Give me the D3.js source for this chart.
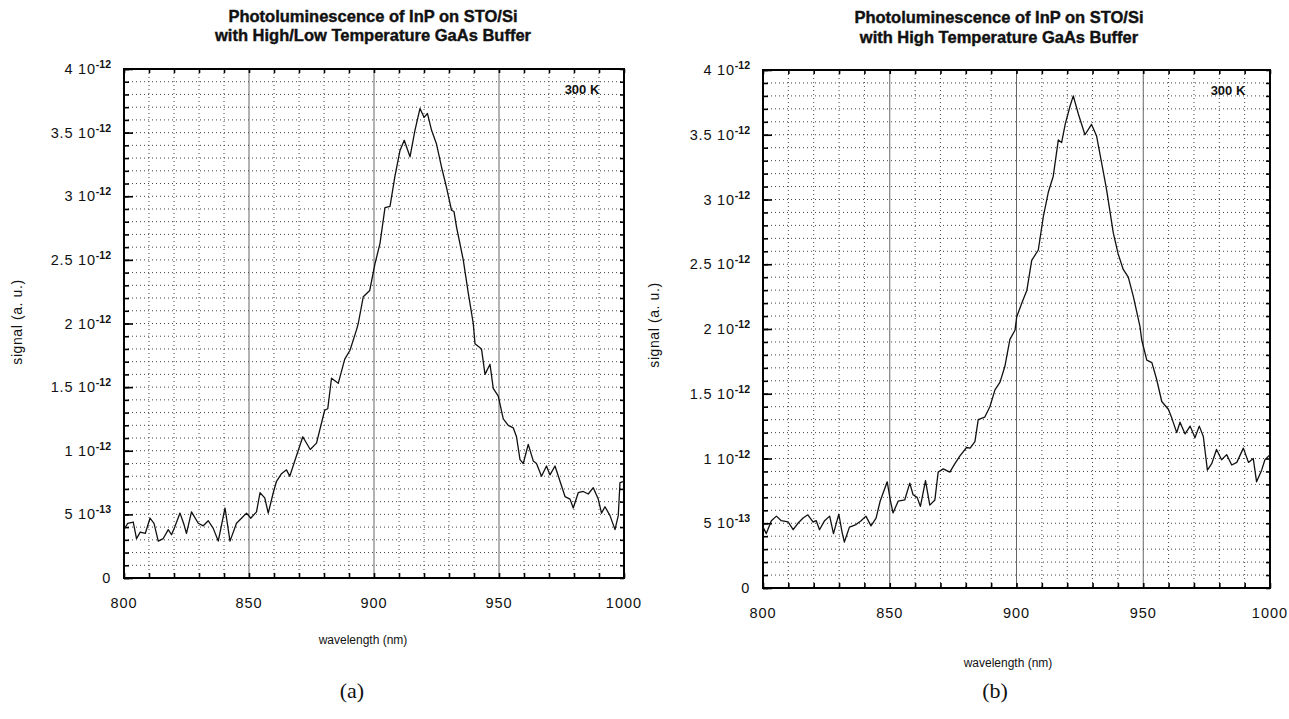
<!DOCTYPE html>
<html><head><meta charset="utf-8">
<script src="https://cdn.jsdelivr.net/npm/d3@7"></script>
<style>
body{margin:0;background:#fff;}
svg{display:block;}
text{font-family:"Liberation Sans",Arial,sans-serif;fill:#111;}
</style></head>
<body><svg id="c" width="1289" height="719"></svg>
<script>
// ---- data (signal in units of 1e-12 a.u., wavelength in nm) ----
const wavelengthA = [800,801.5,803.7,805,806.5,808.5,810.4,812,813.7,815.7,817.7,819,820.3,822.4,824,825,827,829.7,831.7,833.7,835.7,837.7,840.4,842.4,845,847,849,850.7,853,854.4,856.3,857.7,859.7,861,863,865,866.3,868.3,870,871.5,874.5,877,880.3,881.5,883,885.7,888.3,890.4,893,893.7,895.7,898.3,900.4,902.4,904.4,906.4,908.4,910.4,912.1,914.4,916.4,918.4,920,921.4,923,925,927,929,931,932,933,935.7,937.7,939.7,940.4,943,944.4,946.4,947.7,949.7,951.7,953.7,955.7,957,958.4,959.7,961.7,963.7,965,967,969,970.4,972.4,974.4,976.4,978.4,979.7,981.7,983.7,985.7,987.7,989.7,991,992.4,994.4,996.4,997.7,998.4,1000];
const signalA     = [0.38,0.43,0.44,0.31,0.36,0.35,0.47,0.43,0.29,0.31,0.38,0.34,0.40,0.51,0.42,0.35,0.52,0.43,0.41,0.45,0.39,0.29,0.55,0.29,0.43,0.47,0.51,0.47,0.52,0.67,0.63,0.51,0.67,0.76,0.82,0.85,0.80,0.92,1.02,1.11,1.01,1.06,1.32,1.33,1.57,1.53,1.72,1.79,1.95,2.00,2.21,2.26,2.47,2.63,2.91,2.92,3.16,3.36,3.44,3.31,3.52,3.69,3.62,3.65,3.52,3.41,3.23,3.07,2.89,2.88,2.76,2.50,2.24,2.00,1.84,1.80,1.60,1.68,1.49,1.43,1.25,1.20,1.18,1.11,0.93,0.90,1.05,0.92,0.90,0.80,0.88,0.81,0.88,0.76,0.64,0.62,0.55,0.67,0.68,0.66,0.71,0.62,0.51,0.56,0.49,0.38,0.49,0.75,0.76];

const wavelengthB = [800,801.3,803.3,805.3,807.2,809.9,811.9,813.8,815.8,817.7,819.7,821,822.3,824.3,826.3,827.8,829.9,831.2,832.1,834.1,836.7,838.7,840.6,842.6,844.6,846.2,849,850.3,851.3,853.3,855.9,857.9,859.2,860.8,862.1,864.1,865.8,867.8,869.1,871.1,873.7,875.7,877.7,880.3,881.7,883.6,884.9,887.5,889.5,891.5,893.5,895.4,897.4,899.4,900.1,902.1,904.1,906,908.6,910.6,912.6,914.5,916.5,917.8,919.2,921.1,922.4,924.4,927,929.6,931.6,933.6,935.5,938.2,940.1,942.1,944.1,946.1,948.7,949.4,951.4,953.4,955.3,957.3,959.9,961.3,963.2,964.5,966.5,968.5,970.4,972.1,973.7,975.3,977,978.9,980.9,982.9,984.9,986.9,989.5,991.5,993.4,994.7,996.7,998,1000];
const signalB     = [0.47,0.42,0.52,0.555,0.52,0.51,0.45,0.50,0.54,0.565,0.51,0.52,0.45,0.52,0.555,0.42,0.57,0.43,0.355,0.47,0.49,0.52,0.555,0.48,0.54,0.67,0.82,0.67,0.58,0.67,0.68,0.81,0.72,0.70,0.63,0.83,0.64,0.68,0.895,0.92,0.895,0.96,1.02,1.085,1.08,1.13,1.30,1.32,1.40,1.53,1.59,1.71,1.92,1.99,2.095,2.20,2.30,2.53,2.61,2.87,3.06,3.18,3.46,3.44,3.58,3.72,3.80,3.66,3.50,3.58,3.49,3.28,3.08,2.74,2.58,2.46,2.40,2.25,2.02,1.915,1.76,1.74,1.61,1.44,1.38,1.31,1.20,1.28,1.19,1.25,1.16,1.25,1.17,0.91,0.96,1.07,0.99,1.03,0.95,0.97,1.08,0.97,1.0,0.82,0.91,0.99,1.03];

const xTickValues = [800,850,900,950,1000];
const xTickLabels = ["800","850","900","950","1000"];
const yTickValues = [0,0.5,1,1.5,2,2.5,3,3.5,4];
const yTickMantissa = ["0","5","1","1.5","2","2.5","3","3.5","4"];
const yTickExponent = ["","-13","-12","-12","-12","-12","-12","-12","-12"];
const titlesA = ["Photoluminescence of InP on STO/Si","with High/Low Temperature GaAs Buffer"];
const titlesB = ["Photoluminescence of InP on STO/Si","with High Temperature GaAs Buffer"];
const xTitle = "wavelength (nm)";
const yTitle = "signal (a. u.)";
const tempLabel = "300 K";

const svg = d3.select("#c");

function panel(o){
  const g = svg.append("g");
  const x = d3.scaleLinear().domain([800,1000]).range([o.l,o.r]);
  const y = d3.scaleLinear().domain([0,4]).range([o.b,o.t]);
  const minorX = d3.range(800,1000.1,10);
  const minorY = d3.range(0,4.01,0.1).map(v=>+v.toFixed(2));
  // grid
  g.append("g").selectAll("line").data(minorX.filter(v=>v>800&&v<1000)).join("line")
    .attr("x1",d=>x(d)).attr("x2",d=>x(d)).attr("y1",o.t).attr("y2",o.b)
    .attr("stroke",d=>[850,900,950].includes(d)?"#666":"#444")
    .attr("stroke-width",1)
    .attr("stroke-dasharray",d=>[850,900,950].includes(d)?null:"1,3");
  g.append("g").selectAll("line").data(minorY.filter(v=>v>0&&v<4)).join("line")
    .attr("x1",o.l).attr("x2",o.r).attr("y1",d=>y(d)).attr("y2",d=>y(d))
    .attr("stroke","#444").attr("stroke-width",1).attr("stroke-dasharray","1,3");
  // ticks via axes (inward)
  const axL = g.append("g").attr("transform",`translate(${o.l},0)`)
    .call(d3.axisRight(y).tickValues(minorY).tickSize(5).tickFormat(""));
  const axLM = g.append("g").attr("transform",`translate(${o.l},0)`)
    .call(d3.axisRight(y).tickValues(yTickValues).tickSize(9).tickFormat(""));
  const axR = g.append("g").attr("transform",`translate(${o.r},0)`)
    .call(d3.axisLeft(y).tickValues(minorY).tickSize(4).tickFormat(""));
  const axB = g.append("g").attr("transform",`translate(0,${o.b})`)
    .call(d3.axisTop(x).tickValues(minorX).tickSize(5).tickFormat(""));
  const axT = g.append("g").attr("transform",`translate(0,${o.t})`)
    .call(d3.axisBottom(x).tickValues(minorX).tickSize(4).tickFormat(""));
  [axL,axLM,axR,axB,axT].forEach(a=>{a.select(".domain").remove();a.selectAll("line").attr("stroke","#000").attr("stroke-width",1.6);});
  // frame
  g.append("rect").attr("x",o.l).attr("y",o.t).attr("width",o.r-o.l).attr("height",o.b-o.t)
    .attr("fill","none").attr("stroke","#000").attr("stroke-width",2);
  // curve
  const pts = o.wl.map((w,i)=>[w,o.sig[i]]);
  g.append("path").datum(pts).attr("fill","none").attr("stroke","#111").attr("stroke-width",1.3)
    .attr("stroke-linejoin","round")
    .attr("d",d3.line().x(d=>x(d[0])).y(d=>y(d[1])));
  // y tick labels
  const yl = g.append("g").selectAll("text").data(yTickValues).join("text")
    .attr("x",o.l-13).attr("y",d=>y(d)+5).attr("text-anchor","end")
    .style("font-size","14.5px").style("letter-spacing","0.8px");
  yl.each(function(d,i){
    const t=d3.select(this);
    if(yTickExponent[i]){
      t.append("tspan").text(yTickMantissa[i]+"\u00a010");
      t.append("tspan").attr("dy",-6).style("font-size","10.5px").style("font-weight","bold").style("letter-spacing","0px").text(yTickExponent[i]);
    } else t.text(yTickMantissa[i]);
  });
  // x tick labels
  g.append("g").selectAll("text").data(xTickValues).join("text")
    .attr("x",d=>x(d)).attr("y",o.b+o.xlab).attr("text-anchor","middle")
    .style("font-size","14.5px").style("letter-spacing","1px").text((d,i)=>xTickLabels[i]);
  // titles
  o.titles.forEach((s,i)=>g.append("text").attr("x",o.tx).attr("y",o.ty[i]).attr("text-anchor","middle")
    .style("font-weight","bold").style("font-size","16.5px").style("stroke","#111").style("stroke-width","0.4px").text(s));
  g.append("text").attr("x",o.xtx).attr("y",o.xty).attr("text-anchor","middle").style("font-size","12px").text(xTitle);
  g.append("text").attr("transform",`translate(${o.ytx},${o.yty}) rotate(-90)`).attr("text-anchor","middle")
    .style("font-size","14px").style("letter-spacing","0.6px").text(yTitle);
  g.append("text").attr("x",o.r-42).attr("y",o.t+25).attr("text-anchor","middle")
    .style("font-weight","bold").style("font-size","13px").text(tempLabel);
  g.append("text").attr("x",o.capx).attr("y",698).attr("text-anchor","middle")
    .style("font-family","'Liberation Serif','Times New Roman',serif").style("font-size","22px").text(o.cap);
}

panel({l:124,r:624,t:69,b:578,wl:wavelengthA,sig:signalA,titles:titlesA,tx:373,ty:[22,41],
  xlab:30,xtx:363,xty:644,ytx:22,yty:322,capx:352,cap:"(a)"});
panel({l:763,r:1270,t:70,b:588,wl:wavelengthB,sig:signalB,titles:titlesB,tx:999,ty:[23,43],
  xlab:30,xtx:1008,xty:667,ytx:659,yty:325,capx:995,cap:"(b)"});
</script></body></html>
